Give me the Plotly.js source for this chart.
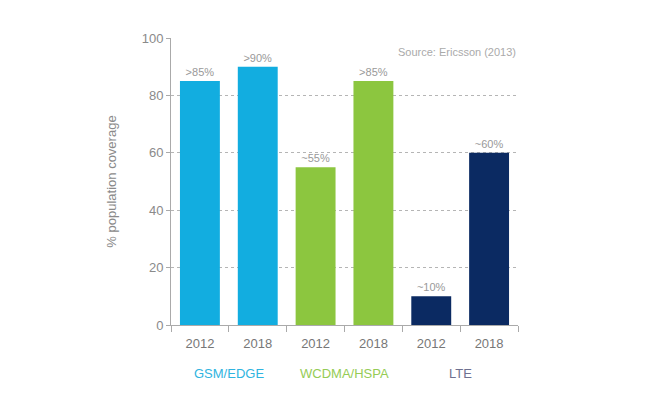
<!DOCTYPE html>
<html><head><meta charset="utf-8">
<script src="https://cdn.plot.ly/plotly-3.0.1.min.js"></script>
<style>html,body{margin:0;padding:0;background:#fff}#chart{width:652px;height:399px}</style>
</head><body><div id="chart"></div>
<script>
const categories = ["GSM/EDGE 2012","GSM/EDGE 2018","WCDMA/HSPA 2012","WCDMA/HSPA 2018","LTE 2012","LTE 2018"];
const years = ["2012","2018","2012","2018","2012","2018"];
const values = [85, 90, 55, 85, 10, 60];
const barLabels = [">85%", ">90%", "~55%", ">85%", "~10%", "~60%"];
const groups = ["GSM/EDGE","WCDMA/HSPA","LTE"];
const groupColors = ["#12ade0", "#8cc63f", "#0b2a62"];
const groupLabelColors = ["#2fb4e0", "#95cc55", "#6e7190"];
const barColors = [groupColors[0],groupColors[0],groupColors[1],groupColors[1],groupColors[2],groupColors[2]];
const gray = "#8a8a8a";
const font = "Liberation Sans, Arial, sans-serif";

const groupAnnotations = groups.map((g,i)=>({
  x: categories[i*2], xref:"x", xshift:29, y:-0.168, yref:"paper", yanchor:"middle",
  text:g, showarrow:false, font:{family:font,size:13,color:groupLabelColors[i]}
}));
Plotly.newPlot("chart",[{
  type:"bar", x:categories, y:values, text:barLabels, textposition:"outside",
  textfont:{family:font,size:11,color:"#999"}, cliponaxis:false,
  marker:{color:barColors}, hoverinfo:"none"
}],{
  width:652,height:399,
  margin:{l:171,r:134,t:38,b:74},
  paper_bgcolor:"#fff",plot_bgcolor:"#fff",
  bargap:0.31,
  showlegend:false,
  font:{family:font,color:gray},
  xaxis:{type:"category", tickvals:categories, ticktext:years, tickson:"boundaries",
    ticks:"outside", ticklen:6, tickcolor:"#aaa", showline:true, linecolor:"#aaa",
    ticklabelstandoff:6,
    tickfont:{family:font,size:13,color:"#777"}, showgrid:false},
  yaxis:{range:[0,100], dtick:20, ticks:"outside", ticklen:4, tickcolor:"#aaa",
    showline:true, linecolor:"#aaa", showgrid:true, gridcolor:"#b5b5b5", griddash:"dot",
    zeroline:false, tickfont:{family:font,size:13,color:gray},
    title:{text:"% population coverage", font:{family:font,size:13,color:gray}, standoff:22}},
  annotations:[
    ...groupAnnotations,
    {x:1,xref:"paper",y:0.95,yref:"paper",xanchor:"right",yanchor:"middle",
     text:"Source: Ericsson (2013)",showarrow:false,font:{family:font,size:11,color:"#aaa"}}
  ]
},{staticPlot:true});
</script></body></html>
